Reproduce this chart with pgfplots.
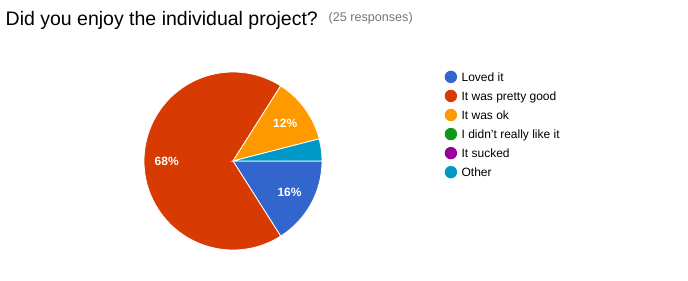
\documentclass[border=0pt]{standalone}
\usepackage{pgfplots}
\usepackage{pgfplotstable}
\pgfplotsset{compat=1.18}
\usepackage{fontspec}
\setmainfont{Liberation Sans}
\definecolor{cA}{HTML}{3366CC}
\definecolor{cB}{HTML}{D83B01}
\definecolor{cC}{HTML}{FF9900}
\definecolor{cD}{HTML}{109618}
\definecolor{cE}{HTML}{990099}
\definecolor{cF}{HTML}{0099C6}
\definecolor{subgray}{HTML}{757575}
\pgfplotstableread[col sep=comma]{
answer,count
Loved it,4
It was pretty good,17
It was ok,3
I didn't really like it,0
It sucked,0
Other,1
}\piedata
\newcommand\getval[2]{\pgfplotstablegetelem{#1}{count}\of\piedata\xdef#2{\pgfplotsretval}}
\begin{document}
\begin{tikzpicture}
\useasboundingbox (0,0) rectangle (688pt,281pt);
\getval{0}\vA \getval{1}\vB \getval{2}\vC \getval{3}\vD \getval{4}\vE \getval{5}\vF
\pgfmathsetmacro\tot{\vA+\vB+\vC+\vD+\vE+\vF}
\pgfmathsetmacro\aA{0}
\pgfmathsetmacro\aB{\aA-360*\vA/\tot}
\pgfmathsetmacro\aC{\aB-360*\vB/\tot}
\pgfmathsetmacro\aD{\aC-360*\vC/\tot}
\pgfmathsetmacro\aE{\aD-360*\vD/\tot}
\pgfmathsetmacro\aF{\aE-360*\vE/\tot}
\pgfmathsetmacro\aG{\aF-360*\vF/\tot}
\pgfmathsetmacro\pA{int(round(100*\vA/\tot))}
\pgfmathsetmacro\pB{int(round(100*\vB/\tot))}
\pgfmathsetmacro\pC{int(round(100*\vC/\tot))}
\node[anchor=base west, inner sep=0pt, font=\fontsize{19.5}{22}\selectfont] at (5.5pt,255.3pt) {Did you enjoy the individual project?};
\node[anchor=base west, inner sep=0pt, text=subgray, font=\fontsize{12.6}{14}\selectfont] at (328.5pt,259.5pt) {(25 responses)};
\begin{axis}[
  at={(233pt,120pt)}, anchor=center,
  scale only axis, width=178pt, height=178pt,
  xmin=-1, xmax=1, ymin=-1, ymax=1,
  hide axis, clip=false,
  legend cell align=left,
  legend image code/.code={\fill[#1, draw=none] (0pt,1.3pt) circle (6.2pt);},
  legend style={draw=none, fill=none, inner sep=0pt, outer sep=0pt,
    at={(1.6893,1.0073)}, anchor=north west,
    font=\fontsize{12}{14}\selectfont,
    nodes={inner sep=0pt, text height=9pt, text depth=3pt},
    /tikz/column sep=4.5pt, /tikz/row sep=5.55pt},
]
\fill[cA, draw=white, line width=0.8pt] (axis cs:0,0) -- (axis cs:{cos(\aA)},{sin(\aA)}) arc[start angle=\aA, end angle=\aB, radius=89pt] -- cycle;
\fill[cB, draw=white, line width=0.8pt] (axis cs:0,0) -- (axis cs:{cos(\aB)},{sin(\aB)}) arc[start angle=\aB, end angle=\aC, radius=89pt] -- cycle;
\fill[cC, draw=white, line width=0.8pt] (axis cs:0,0) -- (axis cs:{cos(\aC)},{sin(\aC)}) arc[start angle=\aC, end angle=\aD, radius=89pt] -- cycle;
\fill[cF, draw=white, line width=0.8pt] (axis cs:0,0) -- (axis cs:{cos(\aF)},{sin(\aF)}) arc[start angle=\aF, end angle=\aG, radius=89pt] -- cycle;
\node[text=white, font=\bfseries\fontsize{12}{14}\selectfont] at (axis cs:{0.725*cos((\aA+\aB)/2)},{0.725*sin((\aA+\aB)/2)}) {\pA\%};
\node[text=white, font=\bfseries\fontsize{12}{14}\selectfont] at (axis cs:{0.745*cos((\aB+\aC)/2)},{0.745*sin((\aB+\aC)/2)}) {\pB\%};
\node[text=white, font=\bfseries\fontsize{12}{14}\selectfont] at (axis cs:{0.725*cos((\aC+\aD)/2)},{0.725*sin((\aC+\aD)/2)}) {\pC\%};
\addlegendimage{fill=cA}\addlegendentry{Loved it}
\addlegendimage{fill=cB}\addlegendentry{It was pretty good}
\addlegendimage{fill=cC}\addlegendentry{It was ok}
\addlegendimage{fill=cD}\addlegendentry{I didn't really like it}
\addlegendimage{fill=cE}\addlegendentry{It sucked}
\addlegendimage{fill=cF}\addlegendentry{Other}
\end{axis}
\end{tikzpicture}
\end{document}
